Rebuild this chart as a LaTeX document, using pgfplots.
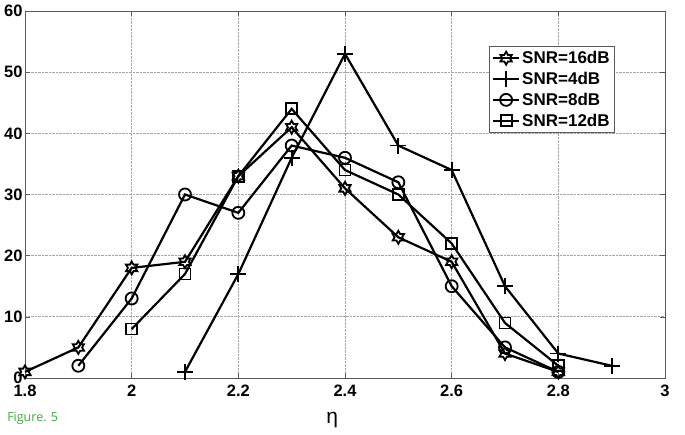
\documentclass[border=0pt]{standalone}
\usepackage{fontspec}
\setmainfont{Liberation Sans}
\newfontfamily\figfont{Open Sans}
\usepackage{pgfplots}
\pgfplotsset{compat=1.18}
\pgfdeclareplotmark{hexagram}{%
 \pgfpathmoveto{\pgfpointpolar{90}{\pgfplotmarksize}}%
 \pgfpathlineto{\pgfpointpolar{120}{0.577\pgfplotmarksize}}%
 \pgfpathlineto{\pgfpointpolar{150}{\pgfplotmarksize}}%
 \pgfpathlineto{\pgfpointpolar{180}{0.577\pgfplotmarksize}}%
 \pgfpathlineto{\pgfpointpolar{210}{\pgfplotmarksize}}%
 \pgfpathlineto{\pgfpointpolar{240}{0.577\pgfplotmarksize}}%
 \pgfpathlineto{\pgfpointpolar{270}{\pgfplotmarksize}}%
 \pgfpathlineto{\pgfpointpolar{300}{0.577\pgfplotmarksize}}%
 \pgfpathlineto{\pgfpointpolar{330}{\pgfplotmarksize}}%
 \pgfpathlineto{\pgfpointpolar{0}{0.577\pgfplotmarksize}}%
 \pgfpathlineto{\pgfpointpolar{30}{\pgfplotmarksize}}%
 \pgfpathlineto{\pgfpointpolar{60}{0.577\pgfplotmarksize}}%
 \pgfpathclose\pgfusepathqstroke}
\definecolor{figgreen}{RGB}{60,170,60}
\pgfplotsset{myline/.style={black, line width=2.2pt, mark options={solid, line width=1.8pt, fill=none}}}
\begin{document}
\begin{tikzpicture}
\begin{axis}[
  at={(0,0)}, anchor=south west,
  scale only axis, width=640pt, height=367pt,
  xmin=1.8, xmax=3, ymin=0, ymax=60,
  xtick={1.8,2,2.2,2.4,2.6,2.8,3},
  ytick={0,10,20,30,40,50,60},
  xticklabels={1.8,2,2.2,2.4,2.6,2.8,3},
  /pgf/number format/assume math mode=true,
  tick label style={font=\bfseries\fontsize{16.5}{16.5}\selectfont, black},
  xticklabel style={yshift=-3pt},
  yticklabel style={xshift=1pt},
  tick align=inside,
  major tick length=5pt,
  tick style={gray!70!black, line width=0.6pt},
  axis line style={gray!70!black, line width=0.9pt},
  grid=major,
  major grid style={densely dotted, gray!70, line width=0.7pt},
  xlabel={η},
  xlabel style={font=\fontsize{21}{21}\selectfont, at={(rel axis cs:0.48,0)}, anchor=north, yshift=-31pt},
  legend style={at={(rel axis cs:0.922,0.905)}, anchor=north east,
    font=\bfseries\fontsize{17}{19}\selectfont, draw=gray!70!black, line width=0.9pt,
    inner sep=3pt, row sep=3pt},
  legend cell align=left,
  legend image code/.code={
    \draw[#1, mark repeat=2, mark phase=2] plot coordinates {(0pt,0pt) (13pt,0pt) (26pt,0pt)};
  },
  clip=false,
]
\addplot[myline, mark=hexagram, mark size=6.5pt] coordinates {
 (1.8,1) (1.9,5) (2.0,18) (2.1,19) (2.2,33) (2.3,41) (2.4,31) (2.5,23) (2.6,19) (2.7,4) (2.8,1)};
\addlegendentry{SNR=16dB}
\addplot[myline, mark=+, mark size=8pt] coordinates {
 (2.1,1) (2.2,17) (2.3,36) (2.4,53) (2.5,38) (2.6,34) (2.7,15) (2.8,4) (2.9,2)};
\addlegendentry{SNR=4dB}
\addplot[myline, mark=o, mark size=6pt] coordinates {
 (1.9,2) (2.0,13) (2.1,30) (2.2,27) (2.3,38) (2.4,36) (2.5,32) (2.6,15) (2.7,5) (2.8,1)};
\addlegendentry{SNR=8dB}
\addplot[myline, mark=square, mark size=5.5pt] coordinates {
 (2.0,8) (2.1,17) (2.2,33) (2.3,44) (2.4,34) (2.5,30) (2.6,22) (2.7,9) (2.8,2)};
\addlegendentry{SNR=12dB}
\node[anchor=west, text=figgreen, font=\figfont\fontsize{12.5}{12.5}\selectfont, inner sep=0pt]
  at (rel axis cs:-0.028,-0.109) {Figure. 5};
\end{axis}
\pgfresetboundingbox
\path (-25pt,-57pt) rectangle (660pt,378pt);
\end{tikzpicture}
\end{document}
